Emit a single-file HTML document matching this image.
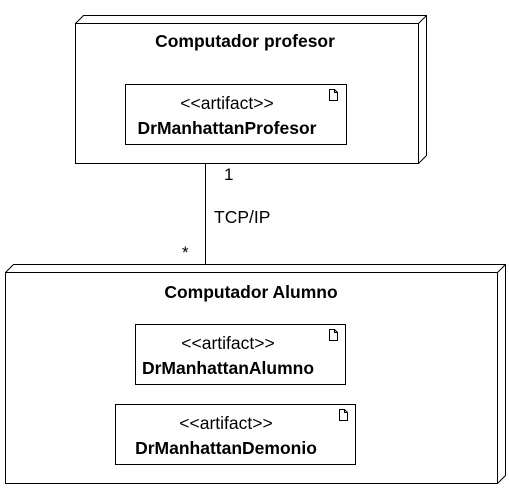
<!DOCTYPE html>
<html><head><style>
body{margin:0;background:#fff;}
svg text{font-family:"Liberation Sans",Arial,sans-serif;fill:#000;}
</style></head><body>
<svg width="509" height="489" viewBox="0 0 509 489" xmlns="http://www.w3.org/2000/svg">
<g fill="#fff" stroke="#000" stroke-width="1">
<path d="M75.5,23.5 L83.5,15.5 L426.5,15.5 L426.5,155.5 L418.5,163.5 L75.5,163.5 Z"/>
<path d="M75.5,23.5 L418.5,23.5 L426.5,15.5 M418.5,23.5 L418.5,163.5" fill="none"/>
<rect x="125.5" y="84.5" width="221" height="60"/>
<line x1="205.5" y1="163.5" x2="205.5" y2="265" />
<path d="M5.5,272.5 L13.5,264.5 L505.5,264.5 L505.5,475.5 L497.5,483.5 L5.5,483.5 Z"/>
<path d="M5.5,272.5 L497.5,272.5 L505.5,264.5 M497.5,272.5 L497.5,483.5" fill="none"/>
<rect x="135.5" y="324.5" width="210" height="60"/>
<rect x="115.5" y="404.5" width="240" height="60"/>
</g>
<g fill="none" stroke="#000" stroke-width="1">
<path d="M329.5,89.5 h5 l3,3 v8 h-8 z M334.5,89.5 v3 h3"/>
<path d="M329.5,329.5 h5 l3,3 v8 h-8 z M334.5,329.5 v3 h3"/>
<path d="M339.5,409.5 h5 l3,3 v8 h-8 z M344.5,409.5 v3 h3"/>
</g>
<text x="245" y="47" font-size="17.5" font-weight="bold" text-anchor="middle">Computador profesor</text>
<text x="227" y="109" font-size="17.5" text-anchor="middle">&lt;&lt;artifact&gt;&gt;</text>
<text x="227" y="134" font-size="17.5" font-weight="bold" text-anchor="middle">DrManhattanProfesor</text>
<text x="224" y="180" font-size="17">1</text>
<text x="214" y="223" font-size="17.5">TCP/IP</text>
<text x="182" y="258" font-size="17">*</text>
<text x="251" y="298" font-size="17.5" font-weight="bold" text-anchor="middle">Computador Alumno</text>
<text x="228" y="349" font-size="17.5" text-anchor="middle">&lt;&lt;artifact&gt;&gt;</text>
<text x="228" y="374" font-size="17.5" font-weight="bold" text-anchor="middle">DrManhattanAlumno</text>
<text x="226" y="429" font-size="17.5" text-anchor="middle">&lt;&lt;artifact&gt;&gt;</text>
<text x="226" y="454" font-size="17.5" font-weight="bold" text-anchor="middle">DrManhattanDemonio</text>
</svg>
</body></html>
